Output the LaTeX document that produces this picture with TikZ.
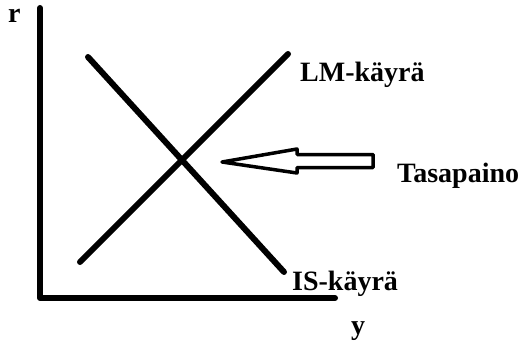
\documentclass[tikz,border=0pt]{standalone}
\usepackage{fontspec}
\setmainfont{Liberation Serif}
\begin{document}
\begin{tikzpicture}[x=1pt, y=-1pt, line join=round, line cap=round,
	curve/.style={line width=6pt},
	lbl/.style={font=\bfseries\fontsize{28}{30}\selectfont, inner sep=0pt, anchor=base west}]
	\useasboundingbox (0,0) rectangle (524,342);

	% ================= axes =================
	\coordinate (top) at (40,8);
	\coordinate (origin) at (40,298);
	\coordinate (right) at (335,298);
	\draw[curve] (top) -- (origin) -- (right);
	\node[lbl] (r) at (8,23) {r};
	\node[lbl] (y) at (351,334) {y};

	% ================= IS and LM =================
	\draw[curve] (88,57) -- (284,272);
	\draw[curve] (80,262) -- (288,54);
	\node[lbl] (lm) at (300,82) {LM-käyrä};
	\node[lbl] (is) at (292,290) {IS-käyrä};

	% ================= equilibrium arrow =================
	\draw[line width=3.5pt] (222,162) -- (297,149) -- (297,154.5) -- (373,154.5)
		-- (373,167.5) -- (297,167.5) -- (297,173) -- cycle;
	\node[lbl] (tp) at (397,182) {Tasapaino};

\end{tikzpicture}
\end{document}
